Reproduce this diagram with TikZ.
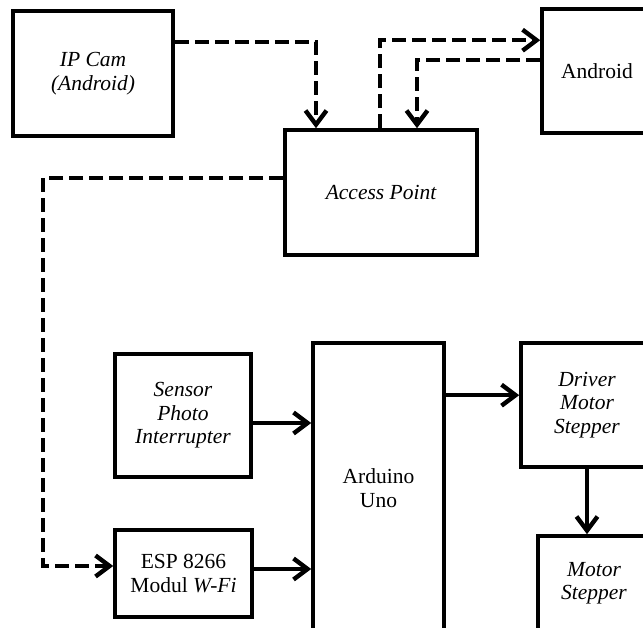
\documentclass[tikz,border=0pt]{standalone}
\usepackage{fontspec}
\setmainfont{Liberation Serif}
\usetikzlibrary{arrows.meta}
\begin{document}
\begin{tikzpicture}[x=1pt,y=-1pt,
  box/.style={draw=black,line width=3.6pt,fill=white,align=center,inner sep=0pt,
    font=\fontsize{21.5}{23.5}\selectfont},
  conn/.style={line width=4.4pt,-{Straight Barb[length=14pt,width=21pt]}},
  wire/.style={conn,dash pattern=on 14pt off 6pt},
]
\useasboundingbox (0,0) rectangle (643,627);
\clip (0,0) rectangle (643,627);
\fill[white] (0,0) rectangle (643,627);

\node[box,minimum width=160,minimum height=125] (ipcam) at (93,73.5) {\itshape IP Cam\\\itshape (Android)};
\node[box,minimum width=192,minimum height=125] (ap) at (381,192.5) {\itshape Access Point};
\node[box,minimum width=110,minimum height=124] (android) at (597,71) {Android};
\node[box,minimum width=136,minimum height=123] (sensor) at (183,415.5) {\itshape Sensor\\\itshape Photo\\\itshape Interrupter};
\node[box,minimum width=137,minimum height=87] (esp) at (183.5,573.5) {ESP 8266\\Modul \textit{W-Fi}};
\node[box,minimum width=131,minimum height=290] (arduino) at (378.5,488) {Arduino\\Uno};
\node[box,minimum width=132,minimum height=124] (driver) at (587,405) {\itshape Driver\\\itshape Motor\\\itshape Stepper};
\node[box,minimum width=112,minimum height=94] (motor) at (594,583) {\itshape Motor\\\itshape Stepper};

\draw[wire] ([yshift=-33pt]ipcam.north east) -| ([xshift=-65pt]ap.north);
\draw[wire] ([xshift=-1pt]ap.north) |- ([yshift=-33pt]android.north west);
\draw[wire] ([yshift=-53pt]android.north west) -| ([xshift=36pt]ap.north);
\draw[wire] ([yshift=-50pt]ap.north west) -- ++(-240,0) |- ([yshift=7.5pt]esp.west);

\coordinate (s1) at ([yshift=-7.5pt]sensor.east);
\coordinate (e1) at ([yshift=4.5pt]esp.east);
\draw[conn] (s1) -- (s1 -| arduino.west);
\draw[conn] (e1) -- (e1 -| arduino.west);
\draw[conn] ([yshift=-54pt]arduino.north east) -- ([yshift=-54pt]driver.north west);
\draw[conn] (driver.south) -- (driver.south |- motor.north);
\end{tikzpicture}
\end{document}
